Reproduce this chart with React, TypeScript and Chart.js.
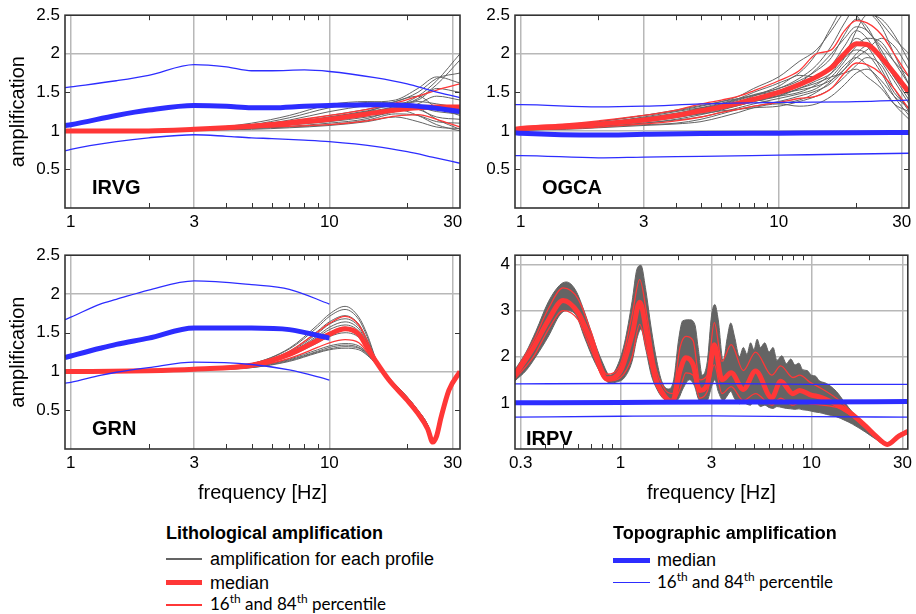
import React, { useEffect, useRef } from "react";
import { Chart, registerables } from "chart.js";

Chart.register(...registerables);

const FONT = "'Liberation Sans', Arial, Helvetica, sans-serif";
const PCT_FONT = "Lato, 'Open Sans', sans-serif";
const GRID = "#b8b8b8";
const GRAY = "rgb(100,100,100)";
const RED = "rgb(255,55,55)";
const BLUE = "rgb(45,45,255)";

// ---------------- IRVG ----------------
const irvgFreq = [0.95, 1, 2, 3, 5, 7, 10, 14, 18, 22, 26, 32];
const irvgProfiles = [
  [1, 1, 1, 1.01, 1.05, 1.1, 1.18, 1.25, 1.32, 1.45, 1.65, 2.0],
  [1, 1, 1, 1.01, 1.04, 1.08, 1.14, 1.22, 1.3, 1.42, 1.6, 1.92],
  [1, 1, 1, 1.02, 1.07, 1.14, 1.25, 1.33, 1.38, 1.5, 1.68, 1.75],
  [1, 1, 1, 1.02, 1.08, 1.17, 1.3, 1.37, 1.4, 1.55, 1.7, 1.62],
  [1, 1, 1, 1.02, 1.1, 1.2, 1.34, 1.38, 1.36, 1.4, 1.55, 1.5],
  [1, 1, 1, 1.01, 1.04, 1.08, 1.12, 1.18, 1.25, 1.35, 1.45, 1.4],
  [1, 1, 1, 1.01, 1.03, 1.06, 1.1, 1.16, 1.28, 1.38, 1.35, 1.3],
  [1, 1, 1, 1.01, 1.04, 1.09, 1.15, 1.22, 1.3, 1.3, 1.25, 1.22],
  [1, 1, 1, 1.01, 1.05, 1.1, 1.18, 1.26, 1.33, 1.28, 1.18, 1.15],
  [1, 1, 1, 1.01, 1.03, 1.05, 1.08, 1.14, 1.22, 1.2, 1.12, 1.1],
  [1, 1, 1, 1.01, 1.02, 1.04, 1.07, 1.12, 1.18, 1.12, 1.05, 1.03],
  [1, 1, 1, 1.01, 1.04, 1.08, 1.13, 1.2, 1.28, 1.2, 1.08, 1.0],
  [1, 1, 1, 1.02, 1.06, 1.12, 1.2, 1.28, 1.35, 1.3, 1.15, 1.02],
  [1, 1, 1, 1.01, 1.05, 1.1, 1.16, 1.25, 1.38, 1.45, 1.3, 1.2],
];
const irvgRedMedian = [1, 1, 1, 1.02, 1.06, 1.1, 1.15, 1.22, 1.27, 1.3, 1.31, 1.31];
const irvgRed84 = [1, 1, 1, 1.02, 1.08, 1.13, 1.2, 1.28, 1.36, 1.45, 1.53, 1.61];
const irvgRed16 = [1, 1, 1, 1.01, 1.04, 1.06, 1.08, 1.13, 1.19, 1.21, 1.15, 1.05];
const irvgTopoFreq = [0.95, 1, 1.5, 2, 3, 4, 5, 6, 8, 10, 15, 20, 25, 32];
const irvgBlueMedian = [1.07, 1.08, 1.2, 1.27, 1.33, 1.32, 1.3, 1.3, 1.32, 1.33, 1.34, 1.33, 1.3, 1.25];
const irvgBlue84 = [1.56, 1.57, 1.65, 1.72, 1.86, 1.83, 1.78, 1.78, 1.79, 1.77, 1.69, 1.61, 1.52, 1.43];
const irvgBlue16 = [0.74, 0.76, 0.86, 0.91, 0.95, 0.93, 0.91, 0.9, 0.88, 0.86, 0.8, 0.73, 0.66, 0.58];

// ---------------- OGCA ----------------
const ogcaFreq = [0.95, 1, 1.5, 2, 3, 4, 5, 6, 7, 8, 10, 12, 14, 16, 18, 20, 22, 25, 28, 32];
const ogcaProfiles = [
  [1.03, 1.04, 1.08, 1.12, 1.2, 1.26, 1.32, 1.38, 1.45, 1.55, 1.7, 1.9, 2.05, 2.3, 2.55, 2.7, 2.6, 2.4, 2.2, 2.0],
  [1.02, 1.03, 1.06, 1.1, 1.16, 1.22, 1.3, 1.36, 1.42, 1.5, 1.62, 1.75, 2.0, 2.35, 2.6, 2.5, 2.3, 2.1, 1.9, 1.7],
  [1.02, 1.03, 1.05, 1.08, 1.14, 1.2, 1.28, 1.34, 1.4, 1.46, 1.55, 1.68, 1.85, 2.1, 2.4, 2.6, 2.55, 2.35, 2.0, 1.6],
  [1.01, 1.02, 1.04, 1.07, 1.12, 1.18, 1.24, 1.3, 1.36, 1.42, 1.5, 1.62, 1.8, 2.0, 2.2, 2.35, 2.3, 2.05, 1.75, 1.45],
  [1.01, 1.02, 1.05, 1.09, 1.15, 1.21, 1.27, 1.32, 1.38, 1.45, 1.58, 1.72, 1.7, 1.85, 2.1, 2.3, 2.2, 1.9, 1.65, 1.35],
  [1.02, 1.03, 1.06, 1.1, 1.18, 1.25, 1.3, 1.33, 1.36, 1.4, 1.45, 1.5, 1.6, 1.75, 2.0, 2.2, 2.1, 1.8, 1.5, 1.3],
  [1.01, 1.01, 1.03, 1.05, 1.1, 1.14, 1.18, 1.24, 1.3, 1.35, 1.42, 1.48, 1.55, 1.7, 1.9, 2.1, 2.2, 2.15, 1.9, 1.6],
  [1.0, 1.01, 1.03, 1.05, 1.08, 1.1, 1.15, 1.22, 1.28, 1.32, 1.38, 1.45, 1.52, 1.62, 1.8, 2.0, 2.1, 1.95, 1.7, 1.4],
  [1.01, 1.02, 1.04, 1.07, 1.13, 1.18, 1.22, 1.26, 1.28, 1.3, 1.32, 1.38, 1.45, 1.55, 1.7, 1.85, 1.95, 1.85, 1.55, 1.25],
  [1.02, 1.03, 1.07, 1.12, 1.2, 1.27, 1.33, 1.38, 1.42, 1.46, 1.52, 1.6, 1.68, 1.8, 1.95, 2.05, 2.0, 1.75, 1.45, 1.2],
  [1.01, 1.02, 1.05, 1.08, 1.14, 1.2, 1.26, 1.32, 1.38, 1.4, 1.36, 1.4, 1.5, 1.65, 1.85, 1.95, 1.85, 1.6, 1.35, 1.15],
  [1.0, 1.01, 1.02, 1.04, 1.07, 1.09, 1.12, 1.18, 1.24, 1.3, 1.35, 1.32, 1.35, 1.45, 1.6, 1.75, 1.8, 1.65, 1.45, 1.3],
  [1.02, 1.03, 1.06, 1.1, 1.17, 1.23, 1.29, 1.35, 1.41, 1.47, 1.55, 1.65, 1.78, 1.95, 2.25, 2.45, 2.35, 2.0, 1.7, 1.5],
  [1.01, 1.02, 1.04, 1.07, 1.12, 1.17, 1.23, 1.28, 1.33, 1.38, 1.46, 1.55, 1.62, 1.7, 1.75, 1.8, 1.7, 1.55, 1.35, 1.25],
  [1.01, 1.02, 1.04, 1.06, 1.1, 1.15, 1.21, 1.27, 1.33, 1.38, 1.45, 1.55, 1.65, 1.75, 1.95, 2.3, 2.5, 2.45, 2.25, 1.9],
  [1.02, 1.03, 1.05, 1.09, 1.15, 1.2, 1.25, 1.3, 1.35, 1.42, 1.48, 1.53, 1.58, 1.66, 1.8, 1.95, 2.05, 2.2, 2.1, 1.8],
];
const ogcaRedMedian = [1.02, 1.03, 1.06, 1.09, 1.14, 1.2, 1.26, 1.31, 1.36, 1.41, 1.5, 1.6, 1.7, 1.82, 2.0, 2.13, 2.12, 1.95, 1.75, 1.5];
const ogcaRed84 = [1.04, 1.05, 1.09, 1.13, 1.2, 1.27, 1.35, 1.4, 1.45, 1.52, 1.65, 1.78, 2.0, 2.05, 2.3, 2.43, 2.4, 2.25, 2.0, 1.7];
const ogcaRed16 = [1.0, 1.01, 1.03, 1.05, 1.09, 1.13, 1.18, 1.24, 1.28, 1.32, 1.37, 1.42, 1.45, 1.55, 1.75, 1.88, 1.86, 1.74, 1.55, 1.28];
const ogcaTopoFreq = [0.95, 1, 2, 3, 5, 10, 20, 32];
const ogcaBlueMedian = [0.975, 0.97, 0.945, 0.955, 0.965, 0.97, 0.975, 0.98];
const ogcaBlue84 = [1.34, 1.34, 1.31, 1.32, 1.35, 1.37, 1.38, 1.4];
const ogcaBlue16 = [0.68, 0.68, 0.65, 0.66, 0.67, 0.685, 0.7, 0.71];

// ---------------- GRN ----------------
const grnFreq = [0.95, 1, 2, 3, 5, 7, 9, 10, 11.5, 13, 14, 15.2, 17, 20, 22, 24, 25.1, 26, 27, 29, 32];
const grnProfiles = [
  [1, 1, 1.01, 1.04, 1.1, 1.3, 1.6, 1.74, 1.84, 1.7, 1.48, 1.15, 0.92, 0.67, 0.5, 0.31, 0.13, 0.21, 0.43, 0.79, 1.0],
  [1, 1, 1.01, 1.04, 1.1, 1.29, 1.57, 1.71, 1.8, 1.67, 1.45, 1.14, 0.92, 0.66, 0.49, 0.3, 0.12, 0.2, 0.42, 0.78, 1.0],
  [1, 1, 1.01, 1.03, 1.09, 1.26, 1.52, 1.64, 1.72, 1.61, 1.41, 1.14, 0.91, 0.66, 0.49, 0.29, 0.12, 0.2, 0.42, 0.78, 1.0],
  [1, 1, 1.01, 1.03, 1.09, 1.25, 1.49, 1.61, 1.68, 1.58, 1.39, 1.13, 0.91, 0.65, 0.48, 0.29, 0.11, 0.19, 0.42, 0.78, 1.0],
  [1, 1, 1.01, 1.03, 1.08, 1.24, 1.46, 1.57, 1.64, 1.55, 1.37, 1.13, 0.9, 0.65, 0.48, 0.28, 0.11, 0.19, 0.41, 0.77, 1.0],
  [1, 1, 1.01, 1.03, 1.08, 1.23, 1.44, 1.54, 1.6, 1.52, 1.35, 1.12, 0.9, 0.65, 0.48, 0.28, 0.11, 0.19, 0.41, 0.77, 1.0],
  [1, 1, 1.01, 1.03, 1.08, 1.22, 1.41, 1.5, 1.57, 1.49, 1.33, 1.12, 0.9, 0.64, 0.47, 0.28, 0.1, 0.18, 0.41, 0.77, 1.0],
  [1, 1, 1.01, 1.03, 1.07, 1.2, 1.37, 1.45, 1.5, 1.44, 1.3, 1.11, 0.9, 0.64, 0.47, 0.27, 0.1, 0.18, 0.4, 0.77, 1.0],
  [1, 1, 1.01, 1.02, 1.06, 1.16, 1.28, 1.33, 1.36, 1.33, 1.24, 1.1, 0.91, 0.66, 0.49, 0.3, 0.12, 0.2, 0.42, 0.78, 1.0],
  [1, 1, 1.01, 1.02, 1.06, 1.15, 1.26, 1.31, 1.34, 1.31, 1.23, 1.1, 0.91, 0.66, 0.49, 0.3, 0.12, 0.2, 0.42, 0.78, 1.0],
  [1, 1, 1.01, 1.02, 1.05, 1.14, 1.25, 1.29, 1.32, 1.3, 1.22, 1.1, 0.92, 0.67, 0.5, 0.31, 0.13, 0.21, 0.43, 0.79, 1.0],
  [1, 1, 1.01, 1.02, 1.05, 1.13, 1.24, 1.28, 1.3, 1.28, 1.21, 1.09, 0.92, 0.67, 0.5, 0.31, 0.13, 0.21, 0.43, 0.79, 1.0],
];
const grnRedMedian = [1, 1, 1.01, 1.03, 1.08, 1.22, 1.4, 1.48, 1.55, 1.48, 1.31, 1.12, 0.89, 0.63, 0.46, 0.26, 0.09, 0.17, 0.4, 0.76, 1.0];
const grnRed84 = [1, 1, 1.01, 1.03, 1.09, 1.26, 1.51, 1.62, 1.71, 1.6, 1.4, 1.13, 0.9, 0.64, 0.47, 0.27, 0.1, 0.18, 0.41, 0.77, 1.0];
const grnRed16 = [1, 1, 1.01, 1.02, 1.06, 1.17, 1.31, 1.37, 1.41, 1.37, 1.25, 1.1, 0.89, 0.63, 0.46, 0.26, 0.09, 0.17, 0.4, 0.76, 1.0];
const grnTopoFreq = [0.95, 1, 1.3, 1.5, 2, 3, 5, 7, 10];
const grnBlueMedian = [1.18, 1.2, 1.3, 1.35, 1.43, 1.56, 1.56, 1.54, 1.43];
const grnBlue84 = [1.67, 1.7, 1.87, 1.93, 2.05, 2.17, 2.12, 2.06, 1.87];
const grnBlue16 = [0.85, 0.86, 0.95, 0.99, 1.05, 1.12, 1.09, 1.02, 0.89];

// ---------------- IRPV ----------------
// upper / lower edge of the per-profile bundle
const irpvEnvFreq = [
  0.28, 0.32, 0.36, 0.42, 0.48, 0.52, 0.58, 0.65, 0.72, 0.8, 0.88, 0.95, 1.05, 1.15, 1.22, 1.28, 1.35, 1.45, 1.55,
  1.65, 1.78, 1.9, 2.02, 2.12, 2.3, 2.45, 2.55, 2.68, 2.85, 3.0, 3.12, 3.25, 3.45, 3.62, 3.78,
  3.95, 4.2, 4.4, 4.6, 4.8, 5.0, 5.2, 5.4, 5.7, 6.0, 6.3, 6.6, 7.0, 7.4, 7.8, 8.2, 8.6, 9.0, 9.5, 10, 10.5, 11, 12,
  13.5, 15, 16.4, 19.3, 21.8, 25, 28.7, 32,
];
const irpvProfilesMax = [
  1.72, 2.1, 2.55, 3.2, 3.55, 3.62, 3.45, 2.95, 2.4, 1.9, 1.6, 1.75, 2.3, 3.2, 3.9, 3.98, 3.5, 2.6, 1.9,
  1.45, 1.3, 1.5, 2.4, 2.78, 2.8, 2.7, 2.2, 1.6, 1.9, 2.9, 3.13, 2.8, 1.9, 2.4, 2.73,
  2.45, 2.0, 2.2, 2.05, 2.3, 2.15, 2.38, 2.2, 2.3, 2.1, 2.2, 1.92, 2.02, 1.85, 1.95, 1.82, 1.86, 1.72, 1.7, 1.6, 1.58, 1.48, 1.42,
  1.25, 1.0, 0.8, 0.52, 0.32, 0.14, 0.32, 0.42,
];
const irpvProfilesMin = [
  1.48, 1.7, 2.0, 2.45, 2.9, 3.0, 2.92, 2.4, 1.95, 1.6, 1.43, 1.45, 1.55, 1.9, 2.4, 2.6, 2.2, 1.6, 1.3,
  1.12, 1.02, 1.0, 1.1, 1.3, 1.5, 1.35, 1.1, 1.0, 1.05, 1.35, 1.5, 1.25, 1.05, 1.15, 1.25,
  1.1, 0.98, 1.02, 0.97, 0.95, 1.05, 1.0, 0.92, 0.95, 0.9, 0.88, 0.92, 0.9, 0.88, 0.87, 0.86, 0.87, 0.85, 0.84, 0.82, 0.8, 0.79, 0.75,
  0.7, 0.62, 0.54, 0.36, 0.21, 0.07, 0.25, 0.35,
];
const irpvFreq = [
  0.28, 0.35, 0.42, 0.5, 0.6, 0.7, 0.85, 1.0, 1.15, 1.26, 1.38, 1.52, 1.7, 1.87, 2.05, 2.2, 2.4, 2.6, 2.85, 3.1,
  3.4, 3.8, 4.4, 5.1, 6.2, 6.9, 8.0, 8.7, 9.8, 11.4, 14, 16.4, 19.3, 21.8, 25, 28.7, 32,
];
const irpvRedMedian = [
  1.6, 2.2, 2.8, 3.22, 2.95, 2.35, 1.52, 1.69, 2.48, 3.18, 2.45, 1.55, 1.15, 1.03, 1.7, 1.98, 1.83, 1.27, 1.4, 2.26,
  1.5, 1.65, 1.29, 1.69, 1.11, 1.47, 1.2, 1.27, 1.18, 1.11, 0.93, 0.75, 0.49, 0.28, 0.1, 0.28, 0.38,
];
const irpvRed84 = [
  1.68, 2.35, 3.05, 3.49, 3.25, 2.55, 1.62, 1.85, 2.9, 3.67, 2.85, 1.8, 1.3, 1.2, 2.2, 2.44, 2.35, 1.5, 1.6, 2.74,
  1.9, 2.26, 1.7, 2.1, 1.6, 1.8, 1.55, 1.6, 1.45, 1.3, 1.05, 0.78, 0.5, 0.3, 0.12, 0.3, 0.4,
];
const irpvRed16 = [
  1.52, 2.0, 2.6, 3.0, 2.8, 2.15, 1.47, 1.55, 2.0, 2.7, 2.1, 1.45, 1.08, 1.0, 1.3, 1.65, 1.6, 1.1, 1.25, 1.83,
  1.2, 1.35, 1.05, 1.2, 0.95, 1.1, 0.95, 1.0, 0.98, 0.95, 0.88, 0.7, 0.46, 0.27, 0.09, 0.27, 0.37,
];
const irpvTopoFreq = [0.28, 1, 3, 10, 32];
const irpvBlueMedian = [1.0, 1.01, 1.02, 1.02, 1.03];
const irpvBlue84 = [1.41, 1.42, 1.42, 1.4, 1.4];
const irpvBlue16 = [0.69, 0.71, 0.72, 0.7, 0.69];

// ---------------- axes ----------------
const xTicksStd = [1, 3, 10, 30];
const xMinorStd = [2, 4, 5, 6, 7, 8, 9, 20];
const xTicksWide = [0.3, 1, 3, 10, 30];
const xMinorWide = [0.4, 0.5, 0.6, 0.7, 0.8, 0.9, 2, 4, 5, 6, 7, 8, 9, 20];
const yTicksStd = [0.5, 1, 1.5, 2, 2.5];
const yMinorStd = [0.5, 1.5];
const yTicksWide = [1, 2, 3, 4];

function line(freq: number[], vals: number[], color: string, width: number, order: number, extra: any = {}) {
  return {
    data: freq.map((f, i) => ({ x: f, y: vals[i] })),
    borderColor: color,
    backgroundColor: color,
    borderWidth: width,
    pointRadius: 0,
    fill: false,
    cubicInterpolationMode: "monotone",
    order,
    ...extra,
  };
}

function siteDatasets(
  freq: number[], profiles: number[][], med: number[], p84: number[], p16: number[],
  topoFreq: number[], bMed: number[], b84: number[], b16: number[]
) {
  return [
    ...profiles.map((p) => line(freq, p, GRAY, 1, 5)),
    line(freq, p84, RED, 1.3, 4),
    line(freq, p16, RED, 1.3, 4),
    line(freq, med, RED, 5, 3),
    line(topoFreq, b84, BLUE, 1.3, 2),
    line(topoFreq, b16, BLUE, 1.3, 2),
    line(topoFreq, bMed, BLUE, 5, 1),
  ];
}

type PanelSpec = {
  left: number; top: number; width: number; height: number;
  padTop: number; padRight: number; yWidth: number; xHeight: number;
  xMin: number; xMax: number; xTicks: number[]; xMinor: number[];
  yMax: number; yTicks: number[]; yMinor: number[];
  yTitle: boolean; xTitle: boolean;
  label: string; labelDx: number; labelDy: number;
  datasets: any[];
};

function makeFrame(spec: PanelSpec) {
  return {
    id: "frame",
    afterDatasetsDraw(chart: any) {
      const { ctx, chartArea: a, scales } = chart;
      ctx.save();
      ctx.strokeStyle = "#333";
      ctx.lineWidth = 1;
      ctx.beginPath();
      for (const v of spec.xMinor) {
        const p = Math.round(scales.x.getPixelForValue(v)) + 0.5;
        ctx.moveTo(p, a.bottom); ctx.lineTo(p, a.bottom - 5);
        ctx.moveTo(p, a.top); ctx.lineTo(p, a.top + 5);
      }
      for (const v of spec.yMinor) {
        const p = Math.round(scales.y.getPixelForValue(v)) + 0.5;
        ctx.moveTo(a.left, p); ctx.lineTo(a.left + 5, p);
        ctx.moveTo(a.right, p); ctx.lineTo(a.right - 5, p);
      }
      ctx.stroke();
      ctx.lineWidth = 1.6;
      ctx.strokeRect(a.left, a.top, a.right - a.left, a.bottom - a.top);
      ctx.fillStyle = "#000";
      ctx.font = `bold 20px ${FONT}`;
      ctx.textAlign = "left";
      ctx.textBaseline = "middle";
      ctx.fillText(spec.label, a.left + spec.labelDx, a.bottom - spec.labelDy);
      ctx.restore();
    },
  };
}

function Panel({ spec }: { spec: PanelSpec }) {
  const ref = useRef<HTMLCanvasElement>(null);
  useEffect(() => {
    const chart = new Chart(ref.current as HTMLCanvasElement, {
      type: "line",
      data: { datasets: spec.datasets },
      options: {
        responsive: false,
        animation: false,
        devicePixelRatio: 1,
        layout: { padding: { top: spec.padTop, right: spec.padRight, left: 0, bottom: 0 } },
        plugins: { legend: { display: false }, tooltip: { enabled: false } },
        scales: {
          x: {
            type: "logarithmic",
            min: spec.xMin,
            max: spec.xMax,
            afterBuildTicks: (s: any) => { s.ticks = spec.xTicks.map((v) => ({ value: v })); },
            afterFit: (s: any) => { s.height = spec.xHeight; },
            ticks: {
              autoSkip: false, maxRotation: 0, minRotation: 0, padding: 4, color: "#000",
              font: { family: FONT, size: 17 },
              callback: (v: any) => String(v),
            },
            grid: { color: GRID, lineWidth: 1.5, drawTicks: false },
            border: { display: false },
            title: {
              display: spec.xTitle, text: "frequency [Hz]", color: "#000",
              font: { family: FONT, size: 20 }, padding: { top: 0, bottom: 9 },
            },
          },
          y: {
            type: "linear",
            min: 0,
            max: spec.yMax,
            afterBuildTicks: (s: any) => { s.ticks = spec.yTicks.map((v) => ({ value: v })); },
            afterFit: (s: any) => { s.width = spec.yWidth; },
            ticks: {
              padding: 5, color: "#000", font: { family: FONT, size: 17 },
              callback: (v: any) => String(v),
            },
            grid: {
              color: (c: any) => (c.tick && Number.isInteger(c.tick.value) ? GRID : "rgba(0,0,0,0)"),
              lineWidth: 1.5,
              drawTicks: false,
            },
            border: { display: false },
            title: {
              display: spec.yTitle, text: "amplification", color: "#000",
              font: { family: FONT, size: 20 }, padding: { top: 6, bottom: 0 },
            },
          },
        },
      } as any,
      plugins: [makeFrame(spec)],
    });
    return () => chart.destroy();
  }, []);
  return (
    <canvas
      ref={ref}
      width={spec.width}
      height={spec.height}
      style={{ position: "absolute", left: spec.left, top: spec.top, width: spec.width, height: spec.height }}
    />
  );
}

const panels: PanelSpec[] = [
  {
    left: 0, top: 0, width: 470, height: 240, padTop: 14, padRight: 10, yWidth: 65, xHeight: 32,
    xMin: 0.95, xMax: 32, xTicks: xTicksStd, xMinor: xMinorStd,
    yMax: 2.5, yTicks: yTicksStd, yMinor: yMinorStd, yTitle: true, xTitle: false,
    label: "IRVG", labelDx: 27, labelDy: 20,
    datasets: siteDatasets(irvgFreq, irvgProfiles, irvgRedMedian, irvgRed84, irvgRed16,
      irvgTopoFreq, irvgBlueMedian, irvgBlue84, irvgBlue16),
  },
  {
    left: 455, top: 0, width: 461, height: 240, padTop: 14, padRight: 7, yWidth: 60, xHeight: 32,
    xMin: 0.95, xMax: 32, xTicks: xTicksStd, xMinor: xMinorStd,
    yMax: 2.5, yTicks: yTicksStd, yMinor: yMinorStd, yTitle: false, xTitle: false,
    label: "OGCA", labelDx: 27, labelDy: 20,
    datasets: siteDatasets(ogcaFreq, ogcaProfiles, ogcaRedMedian, ogcaRed84, ogcaRed16,
      ogcaTopoFreq, ogcaBlueMedian, ogcaBlue84, ogcaBlue16),
  },
  {
    left: 0, top: 240, width: 470, height: 274, padTop: 15, padRight: 10, yWidth: 65, xHeight: 65,
    xMin: 0.95, xMax: 32, xTicks: xTicksStd, xMinor: xMinorStd,
    yMax: 2.5, yTicks: yTicksStd, yMinor: yMinorStd, yTitle: true, xTitle: true,
    label: "GRN", labelDx: 27, labelDy: 20,
    datasets: siteDatasets(grnFreq, grnProfiles, grnRedMedian, grnRed84, grnRed16,
      grnTopoFreq, grnBlueMedian, grnBlue84, grnBlue16),
  },
  {
    left: 455, top: 240, width: 461, height: 274, padTop: 15, padRight: 7, yWidth: 60, xHeight: 65,
    xMin: 0.28, xMax: 32, xTicks: xTicksWide, xMinor: xMinorWide,
    yMax: 4.2, yTicks: yTicksWide, yMinor: [], yTitle: false, xTitle: true,
    label: "IRPV", labelDx: 11, labelDy: 10,
    datasets: [
      line(irpvEnvFreq, irpvProfilesMin, GRAY, 1, 5),
      line(irpvEnvFreq, irpvProfilesMax, GRAY, 1, 5, { fill: "-1", backgroundColor: GRAY }),
      line(irpvFreq, irpvRed84, RED, 1.3, 4),
      line(irpvFreq, irpvRed16, RED, 1.3, 4),
      line(irpvFreq, irpvRedMedian, RED, 5, 3),
      line(irpvTopoFreq, irpvBlue84, BLUE, 1.3, 2),
      line(irpvTopoFreq, irpvBlue16, BLUE, 1.3, 2),
      line(irpvTopoFreq, irpvBlueMedian, BLUE, 5, 1),
    ],
  },
];

function Swatch({ x, y, w, color, lw }: { x: number; y: number; w: number; color: string; lw: number }) {
  return (
    <div style={{ position: "absolute", left: x, top: y - lw / 2, width: w, height: lw, background: color }} />
  );
}

function Label({ x, y, children, bold, family, size }: { x: number; y: number; children: any; bold?: boolean; family?: string; size?: number }) {
  return (
    <div
      style={{
        position: "absolute", left: x, top: y - 11, height: 22, lineHeight: "22px",
        fontSize: size || 18, fontFamily: family || FONT, fontWeight: bold ? "bold" : "normal",
        whiteSpace: "nowrap", color: "#000",
      }}
    >
      {children}
    </div>
  );
}

const supStyle: React.CSSProperties = { fontSize: 12, lineHeight: 0, position: "relative", top: -7 };

function Percentile() {
  return (
    <>
      16<span style={supStyle}>th</span> and 84<span style={supStyle}>th</span> percentile
    </>
  );
}

export default function App() {
  return (
    <div style={{ position: "absolute", left: 0, top: 0, width: 916, height: 614, background: "#fff", overflow: "hidden" }}>
      {panels.map((p) => (
        <Panel key={p.label} spec={p} />
      ))}
      <Label x={166} y={533} bold>Lithological amplification</Label>
      <Swatch x={166} y={559} w={36} color={GRAY} lw={1.3} />
      <Label x={210} y={559}>amplification for each profile</Label>
      <Swatch x={166} y={582.5} w={36} color={RED} lw={5} />
      <Label x={210} y={582.5}>median</Label>
      <Swatch x={166} y={605} w={36} color={RED} lw={1.3} />
      <Label x={210} y={604} family={PCT_FONT} size={17}><Percentile /></Label>

      <Label x={613} y={533} bold>Topographic amplification</Label>
      <Swatch x={613} y={560} w={37} color={BLUE} lw={5} />
      <Label x={657} y={560}>median</Label>
      <Swatch x={613} y={582.7} w={37} color={BLUE} lw={1.3} />
      <Label x={657} y={582} family={PCT_FONT} size={17}><Percentile /></Label>
    </div>
  );
}
